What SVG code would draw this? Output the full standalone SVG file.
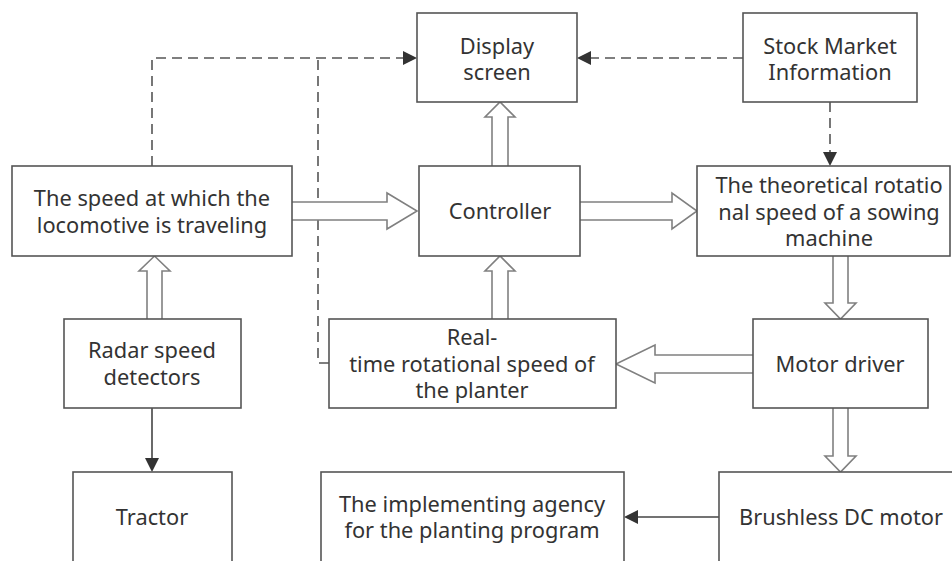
<svg xmlns="http://www.w3.org/2000/svg" width="952" height="561" viewBox="0 0 952 561">
  <style>
    .box { fill: #ffffff; stroke: #555555; stroke-width: 1.6; }
    .lbl { font-family: "Noto Sans", "Open Sans", sans-serif; font-size: 21.8px; fill: #333333; text-anchor: middle; }
    .dash { fill: none; stroke: #555555; stroke-width: 1.6; stroke-dasharray: 10 6; }
    .solid { fill: none; stroke: #444444; stroke-width: 1.6; }
    .hollow { fill: #ffffff; stroke: #808080; stroke-width: 1.6; stroke-linejoin: miter; }
  </style>
  <rect width="952" height="561" fill="#ffffff"/>

  <g id="connectors">
    <!-- dashed signal lines -->
    <polyline class="dash" points="152,166 152,58 404,58"/>
    <polyline class="dash" points="329,363 318,363 318,58"/>
    <line class="dash" x1="743" y1="58" x2="590" y2="58"/>
    <line class="dash" x1="830" y1="102" x2="830" y2="153"/>
    <path d="M403,51 L417,58 L403,65 Z" fill="#333333"/>
    <path d="M591,51 L577,58 L591,65 Z" fill="#333333"/>
    <path d="M823,152 L830,166 L837,152 Z" fill="#333333"/>

    <!-- solid arrows -->
    <line class="solid" x1="152" y1="408" x2="152" y2="459"/>
    <path d="M145,458 L152,472 L159,458 Z" fill="#333333"/>
    <line class="solid" x1="719" y1="517" x2="637" y2="517"/>
    <path d="M638,510 L624,517 L638,524 Z" fill="#333333"/>

    <!-- hollow block arrows -->
    <!-- speed -> controller -->
    <path class="hollow" d="M292,202 L387,202 L387,193 L417,211 L387,229 L387,220 L292,220"/>
    <!-- controller -> theoretical -->
    <path class="hollow" d="M580,202 L672,202 L672,193 L697,211 L672,229 L672,220 L580,220"/>
    <!-- controller -> display -->
    <path class="hollow" d="M492,166 L492,117 L485,117 L500,102 L515,117 L508,117 L508,166"/>
    <!-- real-time -> controller -->
    <path class="hollow" d="M492,319 L492,271 L485,271 L500,256 L515,271 L508,271 L508,319"/>
    <!-- radar -> speed -->
    <path class="hollow" d="M147,319 L147,271 L139,271 L154.5,256 L170,271 L162,271 L162,319"/>
    <!-- theoretical -> motor driver -->
    <path class="hollow" d="M833,256 L833,303 L825,303 L840.5,319 L856,303 L848,303 L848,256"/>
    <!-- motor driver -> brushless -->
    <path class="hollow" d="M833,408 L833,456 L825,456 L840.5,472 L856,456 L848,456 L848,408"/>
    <!-- motor driver -> real-time -->
    <path class="hollow" d="M753,355 L655,355 L655,345 L616,364 L655,383 L655,373 L753,373"/>
  </g>

  <g id="display">
    <rect class="box" x="417" y="13" width="160" height="89"/>
    <text class="lbl" x="497" y="54">Display</text>
    <text class="lbl" x="497" y="80">screen</text>
  </g>
  <g id="stock">
    <rect class="box" x="743" y="13" width="174" height="89"/>
    <text class="lbl" x="830" y="54">Stock Market</text>
    <text class="lbl" x="830" y="80">Information</text>
  </g>
  <g id="speed">
    <rect class="box" x="12" y="166" width="280" height="90"/>
    <text class="lbl" x="152" y="206">The speed at which the</text>
    <text class="lbl" x="152" y="233">locomotive is traveling</text>
  </g>
  <g id="controller">
    <rect class="box" x="419" y="166" width="161" height="90"/>
    <text class="lbl" x="500" y="219">Controller</text>
  </g>
  <g id="theoretical">
    <rect class="box" x="697" y="166" width="253" height="90"/>
    <text class="lbl" x="829" y="193">The theoretical rotatio</text>
    <text class="lbl" x="829" y="220">nal speed of a sowing</text>
    <text class="lbl" x="829" y="246">machine</text>
  </g>
  <g id="radar">
    <rect class="box" x="64" y="319" width="177" height="89"/>
    <text class="lbl" x="152" y="358">Radar speed</text>
    <text class="lbl" x="152" y="385">detectors</text>
  </g>
  <g id="realtime">
    <rect class="box" x="329" y="319" width="287" height="89"/>
    <text class="lbl" x="472" y="345">Real-</text>
    <text class="lbl" x="472" y="372">time rotational speed of</text>
    <text class="lbl" x="472" y="398">the planter</text>
  </g>
  <g id="motordriver">
    <rect class="box" x="753" y="319" width="175" height="89"/>
    <text class="lbl" x="840" y="372">Motor driver</text>
  </g>
  <g id="tractor">
    <rect class="box" x="73" y="472" width="159" height="100"/>
    <text class="lbl" x="152" y="525">Tractor</text>
  </g>
  <g id="implementing">
    <rect class="box" x="321" y="472" width="303" height="100"/>
    <text class="lbl" x="472" y="512">The implementing agency</text>
    <text class="lbl" x="472" y="538">for the planting program</text>
  </g>
  <g id="brushless">
    <rect class="box" x="719" y="472" width="250" height="100"/>
    <text class="lbl" x="841" y="525">Brushless DC motor</text>
  </g>
</svg>
